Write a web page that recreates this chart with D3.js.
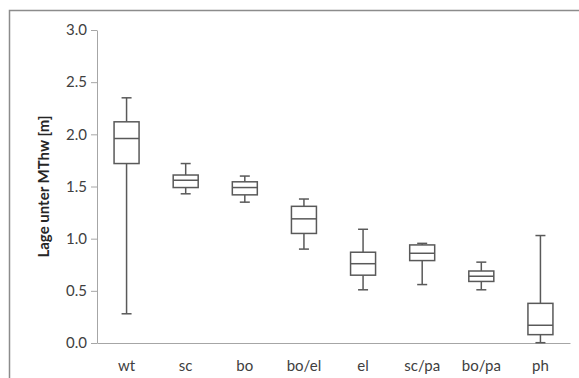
<!DOCTYPE html>
<html>
<head>
<meta charset="utf-8">
<script src="https://cdn.jsdelivr.net/npm/d3@7"></script>
<style>
  body { margin: 0; background: #fff; }
  svg { display: block; font-family: Lato, "Open Sans", sans-serif; }
</style>
</head>
<body>
<div id="chart"></div>
<script>
const width = 579;
const height = 378;
const marginLeft = 97;
const marginRight = 9;
const marginTop = 30;
const marginBottom = 35;

// box plot statistics
const categories = ["wt", "sc", "bo", "bo/el", "el", "sc/pa", "bo/pa", "ph"];
const whiskerLow = [0.28, 1.43, 1.35, 0.90, 0.51, 0.56, 0.51, 0.003];
const q1 = [1.72, 1.49, 1.42, 1.05, 0.65, 0.79, 0.59, 0.08];
const median = [1.96, 1.56, 1.49, 1.19, 0.76, 0.86, 0.64, 0.17];
const q3 = [2.12, 1.61, 1.545, 1.31, 0.87, 0.94, 0.69, 0.38];
const whiskerHigh = [2.35, 1.72, 1.60, 1.38, 1.09, 0.955, 0.775, 1.03];
const yTicks = [0, 0.5, 1.0, 1.5, 2.0, 2.5, 3.0];

const data = categories.map((c, i) => ({
    cat: c, lo: whiskerLow[i], q1: q1[i], med: median[i], q3: q3[i], hi: whiskerHigh[i]
}));

const svg = d3.select("#chart").append("svg")
    .attr("width", width)
    .attr("height", height);

// outer chart frame
svg.append("rect")
    .attr("x", 9.5)
    .attr("y", 10.5)
    .attr("width", width + 10)
    .attr("height", height + 10)
    .attr("fill", "none")
    .attr("stroke", "#8c8c8c")
    .attr("stroke-width", 1.5);

const x = d3.scaleBand()
    .domain(categories)
    .range([marginLeft, width - marginRight]);

const y = d3.scaleLinear()
    .domain([0, 3])
    .range([height - marginBottom, marginTop]);

// y axis
const yAxis = svg.append("g")
    .attr("transform", `translate(${marginLeft},0)`)
    .call(d3.axisLeft(y).tickValues(yTicks).tickFormat(d3.format(".1f")).tickSize(6).tickSizeOuter(0));
yAxis.select(".domain").attr("stroke", "#a6a6a6");
yAxis.selectAll(".tick line").attr("stroke", "#a6a6a6");
yAxis.selectAll(".tick text")
    .attr("x", -10)
    .attr("fill", "#404040")
    .style("font-size", "15px")
    .style("font-family", "Lato, sans-serif");

// x axis
const xAxis = svg.append("g")
    .attr("transform", `translate(0,${y(0)})`)
    .call(d3.axisBottom(x).tickSize(0).tickSizeOuter(0));
xAxis.select(".domain").attr("stroke", "#a6a6a6");
xAxis.selectAll(".tick text")
    .attr("y", 17)
    .attr("fill", "#404040")
    .style("font-size", "15px")
    .style("font-family", "Lato, sans-serif");

// axis title
svg.append("text")
    .attr("transform", `translate(49,${(y(0) + y(3)) / 2}) rotate(-90)`)
    .attr("text-anchor", "middle")
    .attr("fill", "#262626")
    .style("font-size", "15px")
    .style("font-weight", "bold")
    .text("Lage unter MThw [m]");

const boxW = 25;
const capW = 10;
const stroke = "#595959";

const boxes = svg.append("g")
    .selectAll("g")
    .data(data)
    .join("g")
    .attr("transform", d => `translate(${x(d.cat) + x.bandwidth() / 2},0)`);

boxes.append("line")
    .attr("y1", d => y(d.lo)).attr("y2", d => y(d.q1))
    .attr("stroke", stroke).attr("stroke-width", 1.5);
boxes.append("line")
    .attr("y1", d => y(d.q3)).attr("y2", d => y(d.hi))
    .attr("stroke", stroke).attr("stroke-width", 1.5);
boxes.append("line")
    .attr("x1", -capW / 2).attr("x2", capW / 2)
    .attr("y1", d => y(d.lo)).attr("y2", d => y(d.lo))
    .attr("stroke", stroke).attr("stroke-width", 1.5);
boxes.append("line")
    .attr("x1", -capW / 2).attr("x2", capW / 2)
    .attr("y1", d => y(d.hi)).attr("y2", d => y(d.hi))
    .attr("stroke", stroke).attr("stroke-width", 1.5);
boxes.append("rect")
    .attr("x", -boxW / 2)
    .attr("width", boxW)
    .attr("y", d => y(d.q3))
    .attr("height", d => y(d.q1) - y(d.q3))
    .attr("fill", "#fff")
    .attr("stroke", stroke)
    .attr("stroke-width", 1.5);
boxes.append("line")
    .attr("x1", -boxW / 2).attr("x2", boxW / 2)
    .attr("y1", d => y(d.med)).attr("y2", d => y(d.med))
    .attr("stroke", stroke).attr("stroke-width", 1.5);
</script>
</body>
</html>
